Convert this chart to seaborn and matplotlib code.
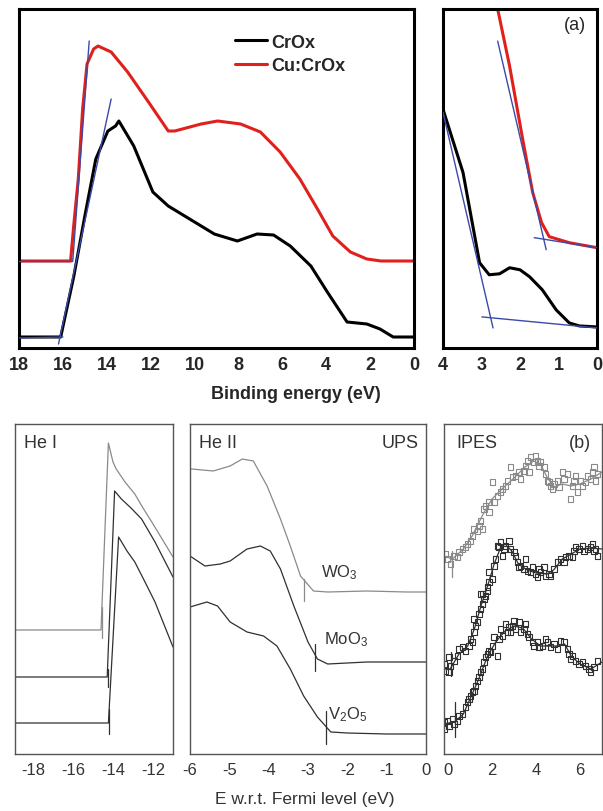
import matplotlib
matplotlib.use("Agg")
import matplotlib.pyplot as plt
import seaborn as sns
import numpy as np
import pandas as pd

# ---------------- DATA ----------------
# (a) left: full valence band, binding energy (eV) vs intensity (arb.)
crox_E = [18, 16.2, 16.1, 15.5, 15.0, 14.5, 13.95, 13.6, 13.45, 12.77, 11.9, 11.2, 10.0,
          9.1, 8.05, 7.15, 6.4, 5.64, 4.7, 3.95, 3.05, 2.15, 1.55, 0.95, 0]
crox_I = [11, 11, 11, 72, 132, 189, 217, 222, 227, 202, 156, 142, 126,
          114, 107, 114, 113, 102, 82, 56, 26, 24, 19, 11, 11]
cucrox_E = [18, 15.65, 15.5, 15.3, 15.1, 14.9, 14.6, 14.4, 14.1, 13.8, 13.05, 12.1, 11.2,
            10.9, 9.7, 8.95, 7.9, 7.0, 6.1, 5.2, 4.4, 3.7, 2.9, 2.15, 1.5, 0]
cucrox_I = [87, 87, 124, 169, 239, 284, 299, 302, 299, 296, 276, 246, 217,
            217, 224, 227, 224, 216, 196, 169, 139, 112, 96, 89, 87, 87]
# tangent lines (left panel)
tanL_red_E, tanL_red_I = [15.55, 14.8], [87, 307]
baseL_red_E, baseL_red_I = [18, 15.6], [87, 87]
tanL_blk_E, tanL_blk_I = [16.2, 13.8], [4, 249]
baseL_blk_E, baseL_blk_I = [18, 16.0], [10, 11]

# (a) right: zoom of onset region
crox_z_E = [4, 3.48, 3.05, 2.8, 2.53, 2.27, 2.0, 1.75, 1.42, 1.06, 0.72, 0.46, 0]
crox_z_I = [238, 175, 85, 73, 74, 80, 78, 71, 58, 38, 25, 22, 21]
cucrox_z_E = [2.62, 2.58, 2.27, 1.93, 1.67, 1.44, 1.24, 0.72, 0]
cucrox_z_I = [348, 338, 281, 208, 155, 125, 111, 105, 100]
tanR_red_E, tanR_red_I = [2.58, 1.32], [306, 98]
baseR_red_E, baseR_red_I = [1.63, 0], [110, 100]
tanR_blk_E, tanR_blk_I = [4, 2.7], [235, 20]
baseR_blk_E, baseR_blk_I = [2.99, 0], [31, 20]

# (b) He I secondary-electron cutoff
he1_top_E = [-18.9, -14.6, -14.23, -14.0, -13.84, -13.4, -12.91, -12.5, -12.06, -11.0]
he1_top_I = [124, 124, 311, 292, 285, 272, 260, 246, 232, 197]
he1_mid_E = [-18.9, -14.29, -13.92, -13.58, -13.1, -12.57, -11.9, -11.0]
he1_mid_I = [77, 77, 263, 255, 246, 235, 212, 177]
he1_bot_E = [-18.9, -14.23, -13.72, -13.3, -12.91, -12.4, -11.9, -11.0]
he1_bot_I = [31, 31, 217, 203, 192, 172, 152, 107]
he1_mark_E = [-14.56, -14.26, -14.18]
he1_mark_lo = [116, 67, 20]
he1_mark_hi = [147, 85, 45]

# (b) He II valence band
wo3_E = [-6, -5.95, -5.41, -4.98, -4.67, -4.39, -4.04, -3.7, -3.45, -3.19, -2.86, -2.5, -1.5, -0.5, 0]
wo3_I = [285, 285, 283, 288, 295, 293, 268, 235, 208, 178, 163, 162, 163, 162, 162]
moo3_E = [-6, -5.62, -5.23, -4.98, -4.55, -4.21, -3.96, -3.7, -3.36, -3.0, -2.76, -2.5, -1.5, -0.5, 0]
moo3_I = [198, 188, 190, 193, 205, 208, 203, 185, 148, 112, 95, 90, 92, 92, 92]
v2o5_E = [-6, -5.57, -5.3, -4.98, -4.55, -4.13, -3.79, -3.45, -3.11, -2.76, -2.42, -2.0, -1.0, 0]
v2o5_I = [147, 152, 148, 132, 122, 118, 108, 85, 58, 37, 22, 21, 20, 20]
he2_mark_E = [-3.09, -2.81, -2.53]
he2_mark_lo = [153, 83, 10]
he2_mark_hi = [175, 110, 43]
he2_names = ["WO$_3$", "MoO$_3$", "V$_2$O$_5$"]
he2_name_E = [-2.68, -2.6, -2.5]
he2_name_I = [182, 115, 40]

# (b) IPES (points and fitted curves)
ipes_top_E = [-0.11, -0.03, 0.12, 0.27, 0.42, 0.50, 0.65, 0.80, 0.88, 1.03, 1.11, 1.18, 1.33, 1.41,
              1.48, 1.56, 1.64, 1.71, 1.86, 1.86, 2.02, 2.09, 2.24, 2.39, 2.47, 2.62, 2.70, 2.85,
              2.92, 3.08, 3.23, 3.30, 3.45, 3.53, 3.61, 3.68, 3.76, 3.91, 3.98, 4.06, 4.14, 4.21,
              4.36, 4.44, 4.52, 4.59, 4.67, 4.74, 4.82, 4.97, 5.05, 5.20, 5.27, 5.42, 5.58, 5.65,
              5.73, 5.80, 5.88, 6.03, 6.11, 6.26, 6.33, 6.48, 6.56, 6.64, 6.71, 6.79]
ipes_top_I = [200, 195, 190, 198, 197, 202, 205, 207, 210, 213, 218, 225, 223, 228,
              233, 225, 245, 248, 242, 252, 272, 252, 258, 262, 265, 268, 273, 287,
              277, 278, 282, 275, 283, 288, 293, 282, 297, 292, 298, 293, 288, 292,
              287, 280, 273, 272, 268, 265, 270, 273, 267, 282, 275, 280, 255, 268,
              273, 278, 262, 273, 268, 272, 278, 275, 282, 287, 273, 280]
ipes_mid_E = [-0.18, -0.11, 0.05, 0.12, 0.05, 0.27, 0.42, 0.50, 0.65, 0.80, 0.95, 1.03, 1.11,
              1.18, 1.26, 1.18, 1.33, 1.41, 1.48, 1.56, 1.64, 1.48, 1.79, 1.56, 1.71, 1.79,
              1.86, 2.02, 1.86, 2.09, 2.17, 2.32, 2.24, 2.39, 2.55, 2.47, 2.62, 2.77, 2.85,
              3.00, 3.08, 3.15, 3.23, 3.30, 3.45, 3.53, 3.61, 3.76, 3.83, 3.98, 4.06, 4.14,
              4.21, 4.36, 4.44, 4.59, 4.67, 4.82, 4.97, 5.12, 5.27, 5.35, 5.50, 5.65, 5.73,
              5.80, 5.95, 6.11, 6.18, 6.33, 6.48, 6.56, 6.64, 6.71, 6.79]
ipes_mid_I = [90, 83, 82, 88, 97, 93, 98, 105, 107, 103, 108, 115, 112,
              122, 128, 135, 132, 140, 145, 150, 155, 160, 163, 160, 158, 167,
              172, 175, 182, 188, 195, 207, 208, 212, 205, 198, 208, 213, 205,
              202, 198, 192, 187, 188, 185, 195, 183, 182, 187, 180, 177, 185,
              182, 187, 178, 180, 178, 185, 192, 195, 192, 197, 198, 197, 203,
              207, 205, 208, 203, 205, 207, 210, 203, 205, 198]
ipes_bot_E = [-0.18, -0.18, -0.03, 0.05, 0.20, 0.27, 0.42, 0.50, 0.65, 0.80, 0.88, 0.95, 1.03,
              1.11, 1.18, 1.26, 1.33, 1.41, 1.48, 1.56, 1.64, 1.71, 1.79, 1.86, 1.94, 2.02,
              2.09, 2.24, 2.32, 2.39, 2.47, 2.62, 2.70, 2.77, 2.85, 2.92, 3.00, 3.08, 3.23,
              3.30, 3.45, 3.53, 3.61, 3.68, 3.83, 3.91, 4.06, 4.14, 4.29, 4.44, 4.52, 4.67,
              4.82, 4.97, 5.12, 5.27, 5.42, 5.50, 5.58, 5.65, 5.80, 5.95, 6.11, 6.26, 6.41,
              6.48, 6.64, 6.79]
ipes_bot_I = [32, 25, 33, 28, 35, 30, 33, 38, 40, 47, 52, 55, 58,
              62, 63, 68, 73, 77, 82, 85, 92, 97, 100, 103, 102, 108,
              117, 98, 115, 125, 118, 130, 122, 127, 122, 128, 133, 125, 132,
              122, 125, 130, 120, 117, 112, 108, 112, 107, 108, 115, 112, 107,
              110, 105, 113, 112, 105, 100, 95, 98, 93, 90, 92, 88, 85,
              82, 87, 93]
fit_top_E = [-0.2, 0.2, 0.7, 1.1, 1.6, 2.0, 2.5, 3.0, 3.5, 3.9, 4.2, 4.5, 4.8, 5.2, 5.6, 6.0, 6.5, 7.0]
fit_top_I = [198, 195, 205, 218, 240, 255, 266, 276, 287, 293, 290, 277, 267, 270, 268, 270, 275, 282]
fit_mid_E = [-0.2, 0.1, 0.5, 0.9, 1.2, 1.5, 1.8, 2.1, 2.4, 2.6, 2.9, 3.2, 3.6, 4.0, 4.5, 4.8, 5.2, 5.6, 6.0, 6.5, 7.0]
fit_mid_I = [85, 85, 100, 108, 125, 148, 168, 190, 207, 210, 203, 190, 184, 181, 180, 184, 195, 200, 205, 206, 205]
fit_bot_E = [-0.2, 0.3, 0.7, 1.0, 1.4, 1.8, 2.2, 2.6, 3.0, 3.4, 3.8, 4.2, 4.6, 5.0, 5.3, 5.6, 6.0, 6.5, 7.0]
fit_bot_I = [30, 32, 40, 55, 75, 98, 113, 123, 128, 126, 115, 108, 108, 108, 110, 98, 90, 85, 92]
ipes_mark_E = [0.2, 0.15, 0.33]
ipes_mark_lo = [177, 78, 17]
ipes_mark_hi = [203, 102, 52]

# tick labels
ticksA_left = [18, 16, 14, 12, 10, 8, 6, 4, 2, 0]
ticksA_right = [4, 3, 2, 1, 0]
ticks_he1 = [-18, -16, -14, -12]
ticks_he2 = [-6, -5, -4, -3, -2, -1, 0]
ticks_ipes = [0, 2, 4, 6]

# ---------------- STYLE ----------------
sns.set_style("white")
plt.rcParams['font.family'] = ['Liberation Sans', 'DejaVu Sans']
plt.rcParams['mathtext.default'] = 'regular'

W, H = 603, 812
fig = plt.figure(figsize=(W / 100, H / 100), dpi=100)


def box(l, t, r, b):
    return [l / W, 1 - b / H, (r - l) / W, (b - t) / H]


axL = fig.add_axes(box(19, 10, 414, 349))
axR = fig.add_axes(box(443, 10, 597, 349))
ax1 = fig.add_axes(box(15, 425, 173, 755))
ax2 = fig.add_axes(box(190, 425, 426, 755))
ax3 = fig.add_axes(box(444, 425, 602, 755))

BLUE = '#3a4aa8'
RED = '#e0201c'
GRAY = '#8a8a8a'
DARK = '#303030'


def line(ax, x, y, color, lw, label=None, zorder=2):
    sns.lineplot(x=x, y=y, ax=ax, color=color, lw=lw, sort=False, estimator=None,
                 label=label, zorder=zorder)


# ---- (a) left
line(axL, crox_E, crox_I, 'black', 2.2, label='CrOx')
line(axL, cucrox_E, cucrox_I, RED, 2.2, label='Cu:CrOx')
for xs, ys in [(tanL_red_E, tanL_red_I), (baseL_red_E, baseL_red_I),
               (tanL_blk_E, tanL_blk_I), (baseL_blk_E, baseL_blk_I)]:
    line(axL, xs, ys, BLUE, 1.0, zorder=3)
axL.set_xlim(18, 0)
axL.set_ylim(0, 339)
leg = axL.legend(loc='upper left', bbox_to_anchor=(0.505, 0.975), frameon=False,
                 handlelength=1.8, handletextpad=0.2, labelspacing=0.35,
                 prop={'weight': 'bold', 'size': 13})

# ---- (a) right
line(axR, crox_z_E, crox_z_I, 'black', 2.2)
line(axR, cucrox_z_E, cucrox_z_I, RED, 2.2)
for xs, ys in [(tanR_red_E, tanR_red_I), (baseR_red_E, baseR_red_I),
               (tanR_blk_E, tanR_blk_I), (baseR_blk_E, baseR_blk_I)]:
    line(axR, xs, ys, BLUE, 1.0, zorder=3)
axR.set_xlim(4, 0)
axR.set_ylim(0, 338)
axR.text(0.93, 0.955, '(a)', transform=axR.transAxes, ha='right', va='center', fontsize=13)

for ax, ticks, minor in [(axL, ticksA_left, np.arange(17, 0, -2)), (axR, ticksA_right, np.arange(3.5, 0, -1))]:
    ax.set_xticks(ticks)
    ax.set_xticklabels([str(t) for t in ticks], fontweight='bold', fontsize=13)
    ax.set_xticks(minor, minor=True)
    ax.set_yticks([])
    ax.tick_params(axis='x', which='major', direction='in', length=5, width=1.8, pad=6, color='black')
    ax.tick_params(axis='x', which='minor', direction='in', length=3, width=1.8, color='black')
    for s in ax.spines.values():
        s.set_linewidth(2.2)
        s.set_color('black')
    ax.set_xlabel('')
    ax.set_ylabel('')

fig.text(296 / W, 1 - 395 / H, 'Binding energy (eV)', ha='center', va='center',
         fontsize=13, fontweight='bold')

# ---- (b) He I
line(ax1, he1_top_E, he1_top_I, GRAY, 0.9)
line(ax1, he1_mid_E, he1_mid_I, DARK, 0.9)
line(ax1, he1_bot_E, he1_bot_I, DARK, 0.9)
for e, lo, hi, c in zip(he1_mark_E, he1_mark_lo, he1_mark_hi, [GRAY, DARK, DARK]):
    line(ax1, [e, e], [lo, hi], c, 0.9)
ax1.set_xlim(-18.9, -11)
ax1.text(0.06, 0.945, 'He I', transform=ax1.transAxes, ha='left', va='center',
         fontsize=13, color='#333333')

# ---- (b) He II
line(ax2, wo3_E, wo3_I, GRAY, 0.9)
line(ax2, moo3_E, moo3_I, DARK, 0.9)
line(ax2, v2o5_E, v2o5_I, DARK, 0.9)
for e, lo, hi, c in zip(he2_mark_E, he2_mark_lo, he2_mark_hi, [GRAY, DARK, DARK]):
    line(ax2, [e, e], [lo, hi], c, 0.9)
for name, e, i in zip(he2_names, he2_name_E, he2_name_I):
    ax2.text(e, i, name, ha='left', va='center', fontsize=12, color='#333333')
ax2.set_xlim(-6, 0)
ax2.text(0.04, 0.945, 'He II', transform=ax2.transAxes, ha='left', va='center',
         fontsize=13, color='#333333')
ax2.text(0.97, 0.945, 'UPS', transform=ax2.transAxes, ha='right', va='center',
         fontsize=13, color='#333333')

# ---- (b) IPES
for xs, ys, fx, fy, c in [(ipes_top_E, ipes_top_I, fit_top_E, fit_top_I, GRAY),
                          (ipes_mid_E, ipes_mid_I, fit_mid_E, fit_mid_I, DARK),
                          (ipes_bot_E, ipes_bot_I, fit_bot_E, fit_bot_I, DARK)]:
    sns.scatterplot(x=xs, y=ys, ax=ax3, marker='s', s=15, facecolors='none',
                    edgecolor=c, linewidth=0.8)
    line(ax3, fx, fy, c, 0.9)
for e, lo, hi, c in zip(ipes_mark_E, ipes_mark_lo, ipes_mark_hi, [GRAY, DARK, DARK]):
    line(ax3, [e, e], [lo, hi], c, 0.9)
ax3.set_xlim(-0.18, 7.0)
ax3.text(0.08, 0.945, 'IPES', transform=ax3.transAxes, ha='left', va='center',
         fontsize=13, color='#333333')
ax3.text(0.93, 0.945, '(b)', transform=ax3.transAxes, ha='right', va='center',
         fontsize=13, color='#333333')

for ax, ticks, minor in [(ax1, ticks_he1, np.arange(-17, -11, 2)),
                         (ax2, ticks_he2, np.arange(-5.5, 0, 1)),
                         (ax3, ticks_ipes, np.arange(1, 8, 2))]:
    ax.set_ylim(0, 330)
    ax.set_xticks(ticks)
    ax.set_xticklabels([str(t) for t in ticks], fontsize=12, color='#333333')
    ax.set_xticks(minor, minor=True)
    ax.set_yticks([])
    ax.tick_params(axis='x', which='major', direction='in', length=5, width=1.0, pad=6, color='#444444')
    ax.tick_params(axis='x', which='minor', direction='in', length=3, width=1.0, color='#444444')
    for s in ax.spines.values():
        s.set_linewidth(1.0)
        s.set_color('#555555')
    ax.set_xlabel('')
    ax.set_ylabel('')
    if ax.get_legend() is not None:
        ax.get_legend().remove()

fig.text(305 / W, 1 - 800 / H, 'E w.r.t. Fermi level (eV)', ha='center', va='center',
         fontsize=12.5, color='#333333')

fig.savefig('out.png', dpi=100)
